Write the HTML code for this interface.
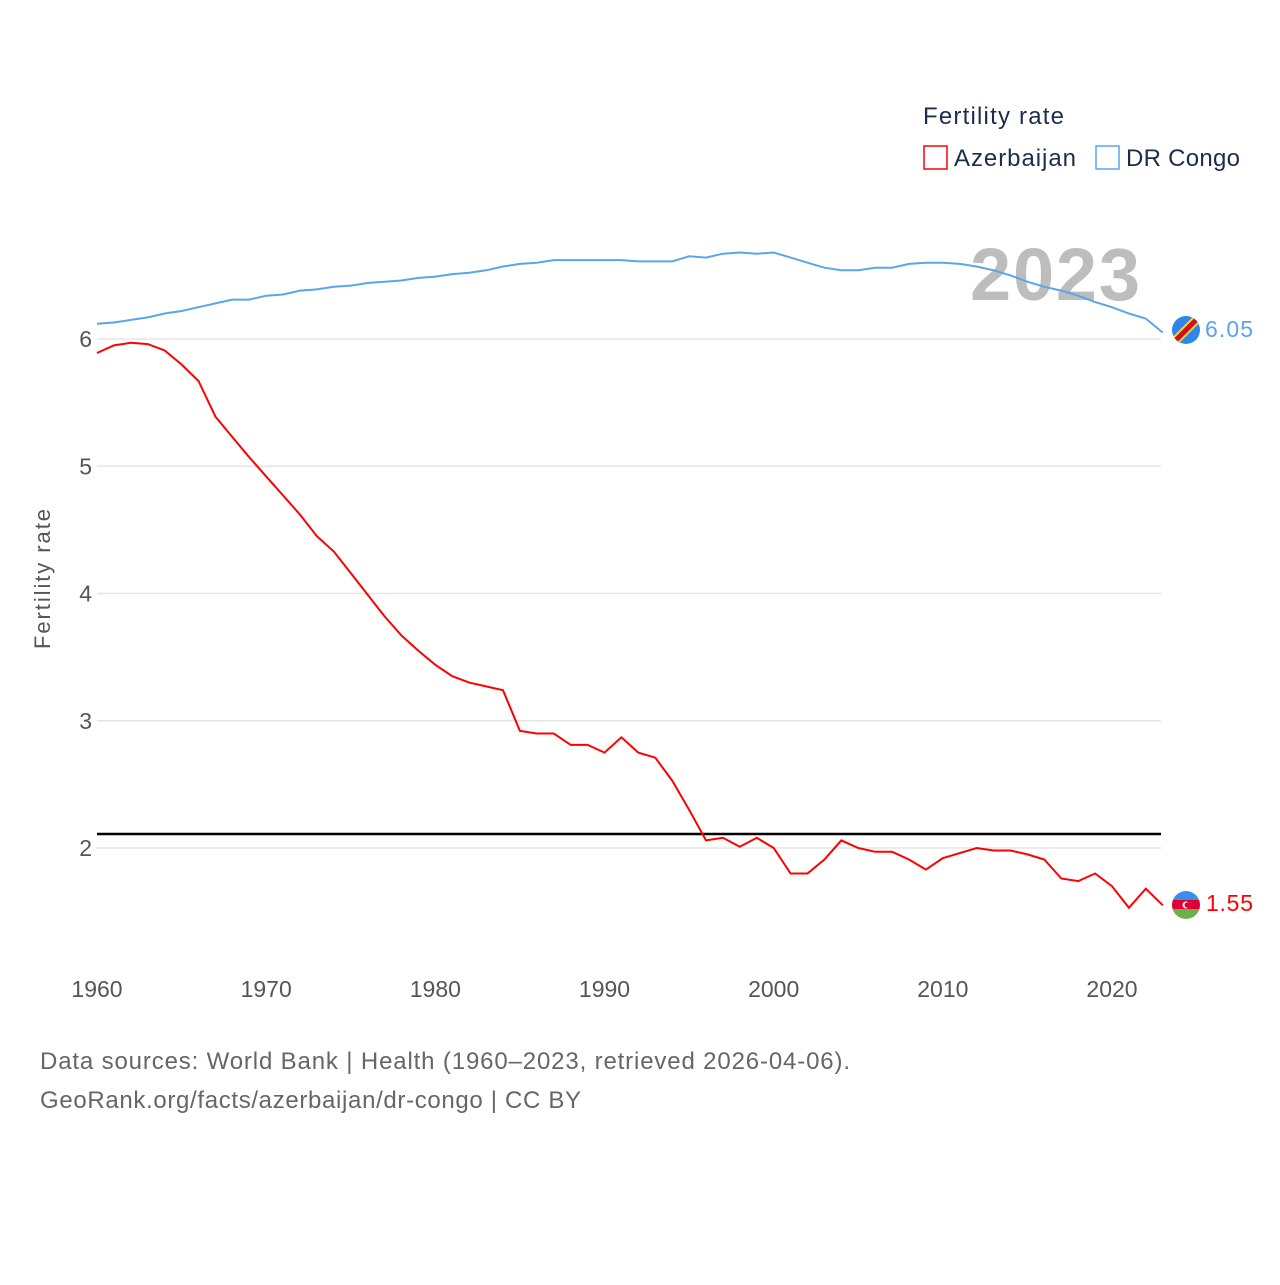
<!DOCTYPE html>
<html><head><meta charset="utf-8"><style>
body{margin:0;background:#fff;}
svg text{font-family:"Liberation Sans",sans-serif;}
</style></head><body>
<svg width="1280" height="1280" viewBox="0 0 1280 1280" xmlns="http://www.w3.org/2000/svg">
<g id="grid"></g>
<g id="yticks"></g>
<g id="xticks"></g>
<text x="50" y="579" transform="rotate(-90 50 579)" text-anchor="middle" font-size="22" fill="#555" textLength="140">Fertility rate</text>
<text x="970" y="300" font-size="74" font-weight="bold" fill="#bdbdbd" textLength="170">2023</text>
<line id="refline" x1="97" x2="1161" stroke="#000" stroke-width="2.5"/>
<path id="drc" fill="none" stroke="#5aa5ec" stroke-width="2"/>
<path id="aze" fill="none" stroke="#f00" stroke-width="2"/>
<g>
<clipPath id="c1"><circle cx="1186" cy="330" r="14"/></clipPath>
<g clip-path="url(#c1)"><rect x="1172" y="316" width="28" height="28" fill="#2f86e8"/><line x1="1172" y1="344" x2="1200" y2="316" stroke="#f7d618" stroke-width="9"/><line x1="1172" y1="344" x2="1200" y2="316" stroke="#ce1021" stroke-width="5"/></g></g>
<text x="1205" y="337" font-size="23" fill="#5aa5ec" textLength="48">6.05</text>
<g>
<clipPath id="c2"><circle cx="1186" cy="905" r="14"/></clipPath>
<g clip-path="url(#c2)"><rect x="1172" y="891" width="28" height="10" fill="#3b8eea"/><rect x="1172" y="900" width="28" height="10" fill="#e00034"/><rect x="1172" y="909" width="28" height="10" fill="#6ab04c"/><circle cx="1186" cy="905" r="3.5" fill="#fff"/><circle cx="1187.3" cy="905" r="2.8" fill="#e00034"/></g></g>
<text x="1206" y="911" font-size="23" fill="#f00" textLength="47">1.55</text>
<text x="923" y="124" font-size="24" fill="#1d2c4d" textLength="141">Fertility rate</text>
<g><rect x="924" y="146" width="23" height="23" fill="none" stroke="#f00" stroke-width="1.5"/><text x="954" y="166" font-size="24" fill="#1d2c4d" textLength="122">Azerbaijan</text></g>
<g><rect x="1096" y="146" width="23" height="23" fill="none" stroke="#5aa5ec" stroke-width="1.5"/><text x="1126" y="166" font-size="24" fill="#1d2c4d" textLength="114">DR Congo</text></g>
<text x="40" y="1069" font-size="24" fill="#666" textLength="810">Data sources: World Bank | Health (1960–2023, retrieved 2026-04-06).</text>
<text x="40" y="1108" font-size="24" fill="#666" textLength="541">GeoRank.org/facts/azerbaijan/dr-congo | CC BY</text>
</svg>
<script>
const years=[];for(let y=1960;y<=2023;y++)years.push(y);
const azerbaijan=[5.89,5.95,5.97,5.96,5.91,5.80,5.67,5.39,5.23,5.07,4.92,4.77,4.62,4.45,4.33,4.16,3.99,3.82,3.67,3.55,3.44,3.35,3.30,3.27,3.24,2.92,2.90,2.90,2.81,2.81,2.75,2.87,2.75,2.71,2.53,2.30,2.06,2.08,2.01,2.08,2.00,1.80,1.80,1.91,2.06,2.00,1.97,1.97,1.91,1.83,1.92,1.96,2.00,1.98,1.98,1.95,1.91,1.76,1.74,1.80,1.70,1.53,1.68,1.55];
const drCongo=[6.12,6.13,6.15,6.17,6.20,6.22,6.25,6.28,6.31,6.31,6.34,6.35,6.38,6.39,6.41,6.42,6.44,6.45,6.46,6.48,6.49,6.51,6.52,6.54,6.57,6.59,6.60,6.62,6.62,6.62,6.62,6.62,6.61,6.61,6.61,6.65,6.64,6.67,6.68,6.67,6.68,6.64,6.60,6.56,6.54,6.54,6.56,6.56,6.59,6.60,6.60,6.59,6.57,6.54,6.50,6.45,6.41,6.38,6.34,6.29,6.25,6.20,6.16,6.05];
const yTicks=[2,3,4,5,6];
const xTicks=[1960,1970,1980,1990,2000,2010,2020];
const replacement=2.11;
const X=y=>97+(y-1960)*1015/60;
const Y=v=>848-(v-2)*127.25;
const NS="http://www.w3.org/2000/svg";
function mk(tag,attrs,parent,txt){const e=document.createElementNS(NS,tag);for(const k in attrs)e.setAttribute(k,attrs[k]);if(txt!==undefined)e.textContent=txt;parent.appendChild(e);return e;}
const grid=document.getElementById('grid'),yt=document.getElementById('yticks'),xt=document.getElementById('xticks');
yTicks.forEach(v=>{
const l=mk('line',{x1:97,x2:1161,y1:Y(v),y2:Y(v),stroke:'#e6e6e6','stroke-width':1.5},grid);


const t=mk('text',{x:92,y:Y(v)+8,'text-anchor':'end','font-size':23,fill:'#555'},yt,String(v));


});
xTicks.forEach(v=>{
const t=mk('text',{x:X(v),y:997,'text-anchor':'middle','font-size':23,fill:'#555'},xt,String(v));


});
const rl=document.getElementById('refline');rl.setAttribute('y1',Y(replacement));rl.setAttribute('y2',Y(replacement));
const path=arr=>arr.map((v,i)=>(i?'L':'M')+X(years[i]).toFixed(1)+','+Y(v).toFixed(1)).join('');
document.getElementById('aze').setAttribute('d',path(azerbaijan));
document.getElementById('drc').setAttribute('d',path(drCongo));
</script>
</body></html>
